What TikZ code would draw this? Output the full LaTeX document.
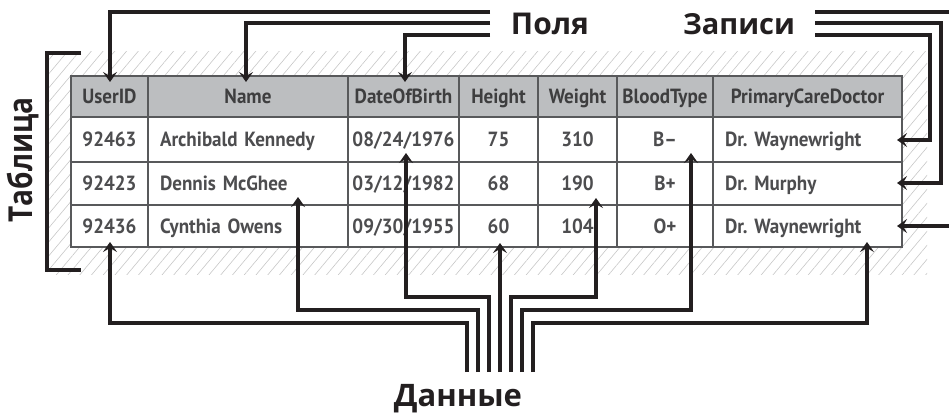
\documentclass[tikz,border=0pt]{standalone}
\usepackage{fontspec}
\usetikzlibrary{arrows.meta,patterns.meta}
\newfontfamily\tabfont[FakeStretch=0.93]{PT Sans}
\newfontfamily\labfont{Open Sans}
\newfontfamily\labfontc[FakeStretch=0.85]{Open Sans}
\definecolor{ink}{HTML}{231F20}
\definecolor{tline}{HTML}{58595B}
\definecolor{ttext}{HTML}{4D4D4F}
\definecolor{hfill}{HTML}{BCBEC0}
\newcommand\tcell[7]{%
  \pgfmathsetmacro\cw{#3-#2}\pgfmathsetmacro\ch{#5-#4}%
  \node[#6, minimum width=\cw pt, minimum height=\ch pt] (#1) at ({(#2+#3)/2},{(#4+#5)/2}) {#7};}
\newcommand\lcell[6]{%
  \pgfmathsetmacro\ch{#5-#4}\pgfmathsetmacro\tw{#3-#2-24}%
  \node[cell, minimum height=\ch pt, text width=\tw pt, align=left, inner xsep=12pt] (#1) at ({(#2+#3)/2},{(#4+#5)/2}) {#6};}
\tikzset{
  cell/.style={draw=tline, line width=2pt, fill=white, inner sep=0pt, text height=14.5pt, text depth=0pt,
    font=\tabfont\bfseries\fontsize{20.5}{20.5}\selectfont\frenchspacing, text=ttext},
  hcell/.style={cell, fill=hfill, text=ttext!80!black},
  conn/.style={draw=ink, line width=3.5pt},
  arr/.style={conn, -{Stealth[length=10pt,width=14pt,inset=4pt]}},
  lab/.style={text=ink, inner sep=0pt, font=\labfont\bfseries\fontsize{30}{30}\selectfont},
}
\begin{document}
\begin{tikzpicture}[x=1pt,y=-1pt]
\useasboundingbox (0,0) rectangle (949,412);
% hatched background
\fill[pattern={Lines[angle=50,distance=9pt,line width=0.6pt]}, pattern color=black!22] (47,52) rectangle (927,274);
% table header
\tcell{h1}{71}{148}{76}{117}{hcell}{UserID}
\tcell{h2}{148}{348}{76}{117}{hcell}{Name}
\tcell{h3}{348}{459}{76}{117}{hcell}{DateOfBirth}
\tcell{h4}{459}{538}{76}{117}{hcell}{Height}
\tcell{h5}{538}{617}{76}{117}{hcell}{Weight}
\tcell{h6}{617}{713}{76}{117}{hcell}{BloodType}
\tcell{h7}{713}{902}{76}{117}{hcell}{PrimaryCareDoctor}
% row 1
\tcell{a1}{71}{148}{117}{162}{cell}{92463}
\lcell{a2}{148}{348}{117}{162}{Archibald Kennedy}
\tcell{a3}{348}{459}{117}{162}{cell}{08/24/1976}
\tcell{a4}{459}{538}{117}{162}{cell}{75}
\tcell{a5}{538}{617}{117}{162}{cell}{310}
\tcell{a6}{617}{713}{117}{162}{cell}{B–}
\lcell{a7}{713}{902}{117}{162}{Dr. Waynewright}
% row 2
\tcell{b1}{71}{148}{162}{205}{cell}{92423}
\lcell{b2}{148}{348}{162}{205}{Dennis McGhee}
\tcell{b3}{348}{459}{162}{205}{cell}{03/12/1982}
\tcell{b4}{459}{538}{162}{205}{cell}{68}
\tcell{b5}{538}{617}{162}{205}{cell}{190}
\tcell{b6}{617}{713}{162}{205}{cell}{B+}
\lcell{b7}{713}{902}{162}{205}{Dr. Murphy}
% row 3
\tcell{c1}{71}{148}{205}{247}{cell}{92436}
\lcell{c2}{148}{348}{205}{247}{Cynthia Owens}
\tcell{c3}{348}{459}{205}{247}{cell}{09/30/1955}
\tcell{c4}{459}{538}{205}{247}{cell}{60}
\tcell{c5}{538}{617}{205}{247}{cell}{104}
\tcell{c6}{617}{713}{205}{247}{cell}{O+}
\lcell{c7}{713}{902}{205}{247}{Dr. Waynewright}
% bracket
\draw[draw=ink, line width=3.6pt] (81,53) -- (47,53) -- (47,270) -- (81,270);
% labels
\node[lab, anchor=base] (pol) at (550,35) {Поля};
\node[lab, anchor=base, font=\labfont\bfseries\fontsize{29}{29}\selectfont] (zap) at (739,35) {Записи};
\node[lab, anchor=base, font=\labfont\bfseries\fontsize{31}{31}\selectfont] (dan) at (458,406) {Данные};
\node[lab, anchor=base, rotate=90, font=\labfontc\bfseries\fontsize{33}{33}\selectfont] (tab) at (32,160) {Таблица};
% coordinates
\coordinate (p1) at (490,12); \coordinate (p2) at (490,23); \coordinate (p3) at (490,35);
\coordinate (z1) at (815,12); \coordinate (z2) at (815,23); \coordinate (z3) at (815,35);
\coordinate (tuid) at (110,82); \coordinate (tname) at (246,82); \coordinate (tdob) at (405,82);
\coordinate (r1) at (897,140); \coordinate (r2) at (897,183); \coordinate (r3) at (897,226);
\coordinate (d1) at (467,372); \coordinate (d2) at (478,372); \coordinate (d3) at (489,372);
\coordinate (d4) at (500,372); \coordinate (d5) at (511,372); \coordinate (d6) at (522,372);
\coordinate (d7) at (533,372);
\coordinate (e1) at (110,242); \coordinate (e2) at (298,197); \coordinate (e3) at (406,153);
\coordinate (e4) at (500,243); \coordinate (e5) at (596,198); \coordinate (e6) at (691,153);
\coordinate (e7) at (867,242);
% field connectors
\draw[arr] (p1) -| (tuid);
\draw[arr] (p2) -| (tname);
\draw[arr] (p3) -| (tdob);
% record connectors
\draw[arr] (z1) -- (960,12) |- (r3);
\draw[arr] (z2) -- (941,23) |- (r2);
\draw[arr] (z3) -- (930,35) |- (r1);
% data connectors
\draw[arr] (d1) -- (467,323) -| (e1);
\draw[arr] (d2) -- (478,310) -| (e2);
\draw[arr] (d3) -- (489,297) -| (e3);
\draw[arr] (d4) -- (e4);
\draw[arr] (d5) -- (511,297) -| (e5);
\draw[arr] (d6) -- (522,310) -| (e6);
\draw[arr] (d7) -- (533,323) -| (e7);
\end{tikzpicture}
\end{document}
